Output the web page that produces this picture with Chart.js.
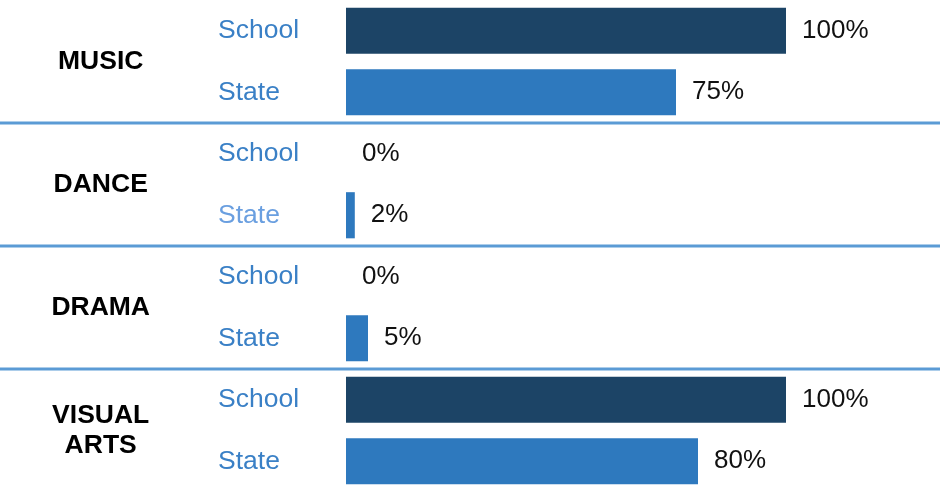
<!DOCTYPE html>
<html>
<head>
<meta charset="utf-8">
<script src="https://cdn.jsdelivr.net/npm/chart.js@4"></script>
<style>
  html, body { margin: 0; padding: 0; background: #fff; }
  #wrap { width: 940px; height: 492px; position: relative; }
</style>
</head>
<body>
<div id="wrap"><canvas id="artsChart"></canvas></div>
<script>
// categories and series
const categories = ['MUSIC', 'DANCE', 'DRAMA', ['VISUAL', 'ARTS']];
const seriesNames = ['School', 'State'];
const schoolValues = [100, 0, 0, 100];
const stateValues = [75, 2, 5, 80];

const FONT = '"Liberation Sans", Arial, sans-serif';

// one row per series inside each category
const rowLabels = [];
const rowValues = [];
const rowColors = [];
categories.forEach((c, i) => {
  rowLabels.push(seriesNames[0], seriesNames[1]);
  rowValues.push(schoolValues[i], stateValues[i]);
  rowColors.push('#1c4466', '#2e79be');
});

// separators between category groups, full width
const separators = {
  id: 'separators',
  afterDraw(chart) {
    const ctx = chart.ctx;
    const y = chart.scales.y;
    ctx.save();
    ctx.strokeStyle = '#5b9bd5';
    ctx.lineWidth = 3;
    for (let i = 1; i < categories.length; i++) {
      const py = (y.getPixelForValue(2 * i - 1) + y.getPixelForValue(2 * i)) / 2;
      ctx.beginPath();
      ctx.moveTo(0, py);
      ctx.lineTo(chart.width, py);
      ctx.stroke();
    }
    ctx.restore();
  }
};

// value labels after bar end
const valueLabels = {
  id: 'valueLabels',
  afterDatasetsDraw(chart) {
    const ctx = chart.ctx;
    const meta = chart.getDatasetMeta(0);
    ctx.save();
    ctx.font = '26px ' + FONT;
    ctx.fillStyle = '#111';
    ctx.textBaseline = 'middle';
    ctx.textAlign = 'left';
    meta.data.forEach((bar, i) => {
      ctx.fillText(rowValues[i] + '%', bar.x + 16, bar.y);
    });
    ctx.restore();
  }
};

// fixed axis widths, no extra vertical padding from tall labels
function fixWidth(w) {
  return scale => {
    scale.width = w;
    scale.paddingTop = 0;
    scale.paddingBottom = 0;
  };
}

new Chart(document.getElementById('artsChart').getContext('2d'), {
  type: 'bar',
  data: {
    labels: rowLabels,
    datasets: [{
      data: rowValues,
      backgroundColor: rowColors,
      borderWidth: 0,
      categoryPercentage: 1,
      barPercentage: 0.75
    }]
  },
  options: {
    indexAxis: 'y',
    responsive: true,
    maintainAspectRatio: false,
    animation: false,
    layout: { padding: 0 },
    scales: {
      x: {
        display: false,
        min: 0,
        max: 135
      },
      y: {
        position: 'left',
        weight: 0,
        grid: { display: false },
        border: { display: false },
        afterFit: fixWidth(128),
        ticks: {
          crossAlign: 'far',
          padding: 0,
          font: { family: FONT, size: 26.5 },
          color: ctx => (ctx.index === 3 ? '#6a9fe0' : '#3a80c6')
        }
      },
      groups: {
        type: 'category',
        position: 'left',
        weight: 1,
        labels: categories,
        offset: true,
        grid: {
          display: true,
          drawOnChartArea: false,
          drawTicks: true,
          tickLength: 68,
          color: 'rgba(0,0,0,0)'
        },
        border: { display: false },
        afterFit: fixWidth(218),
        ticks: {
          crossAlign: 'center',
          padding: 0,
          font: { family: FONT, size: 26.5, weight: 'bold', lineHeight: 1.15 },
          color: '#000'
        }
      }
    },
    plugins: {
      legend: { display: false },
      tooltip: { enabled: false }
    }
  },
  plugins: [separators, valueLabels]
});
</script>
</body>
</html>
